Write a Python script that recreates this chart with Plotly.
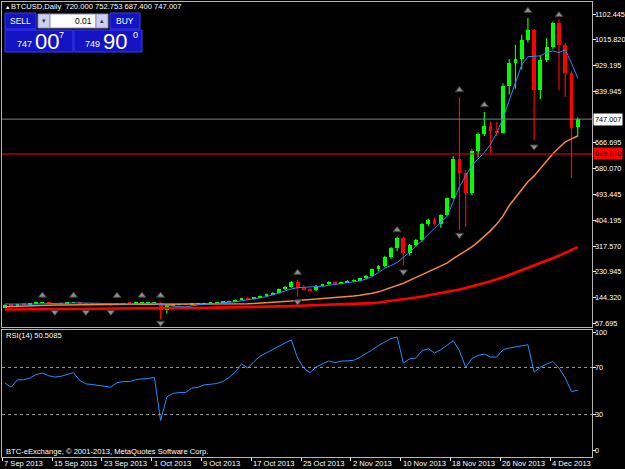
import plotly.graph_objects as go

# ---------------- data ----------------
date_labels = ["7 Sep 2013", "15 Sep 2013", "23 Sep 2013", "1 Oct 2013", "9 Oct 2013",
               "17 Oct 2013", "25 Oct 2013", "2 Nov 2013", "10 Nov 2013", "18 Nov 2013",
               "26 Nov 2013", "4 Dec 2013"]
date_label_bars = [0, 8, 16, 24, 32, 40, 48, 56, 64, 72, 80, 88]

opens = [110, 119, 117, 122, 121, 124, 126, 127, 124, 123,
         125, 126.5, 128, 123, 121, 120.5, 120, 119, 119.5, 123,
         124, 123.5, 125, 126, 126.5, 127, 103, 117, 119, 119.5,
         119, 122, 123, 125, 126, 127, 129, 132, 136, 142,
         138, 145, 148, 155, 160, 172, 181, 197, 177, 172,
         168, 184, 188, 197, 191, 196, 200, 203, 209, 218,
         240, 251, 282, 311, 345, 294, 321, 338, 392, 406,
         392, 423, 480, 612, 565, 497, 639, 698, 724, 707,
         701, 859, 937, 952, 1015, 1048, 845, 947, 991, 1072,
         998, 903, 720.0]
highs = [120, 121, 123, 124, 125, 127, 128, 128, 125, 126,
         127, 129, 128.5, 124, 122.5, 122, 121.5, 120.5, 124, 125,
         125, 126, 128, 127, 128, 128, 120, 120, 121, 121,
         123, 124, 126, 127, 128, 130, 133, 137, 143, 145,
         146, 150, 157, 162, 174, 183, 199, 205, 186, 176,
         186, 190, 199, 199, 198, 202, 205, 211, 220, 242,
         254, 285, 315, 350, 350, 326, 342, 395, 410, 414,
         425, 482, 622, 822, 575, 645, 702, 771, 738, 737,
         868, 950, 998, 1032, 1089, 1052, 962, 1021, 1076, 1085,
         1005, 910, 752.753]
lows = [108, 116, 116, 120, 120, 123, 124, 123, 121, 122,
        124, 125, 122, 120, 119.5, 119, 118.5, 117, 119, 122,
        122.5, 123, 124, 124.5, 125, 70, 90, 114, 117, 118,
        118.5, 121, 122, 124, 125, 126, 128, 131, 135, 136,
        137, 142, 146, 153, 158, 169, 178, 147, 168, 165,
        166, 181, 186, 188, 189, 194, 197, 200, 206, 215,
        232, 247, 275, 300, 254, 285, 317, 332, 385, 388,
        380, 420, 476, 372, 382, 490, 618, 690, 633, 690,
        698, 830, 850, 915, 1005, 676, 815, 940, 985, 845,
        822, 548, 687.4]
closes = [119, 117, 122, 121, 124, 126, 127, 124, 123, 125,
          126.5, 128, 123, 121, 120.5, 120, 119, 119.5, 123, 124,
          123.5, 125, 126, 126.5, 127, 103, 117, 119, 119.5, 119,
          122, 123, 125, 126, 127, 129, 132, 136, 142, 138,
          145, 148, 155, 160, 172, 181, 197, 177, 172, 168,
          184, 188, 197, 191, 196, 200, 203, 209, 218, 240,
          251, 282, 311, 345, 294, 321, 338, 392, 406, 392,
          423, 480, 612, 565, 497, 639, 698, 724, 707, 701,
          859, 937, 952, 1015, 1048, 845, 947, 991, 1072, 998,
          903, 717, 747.007]

ma_fast = [122, 121.5, 121, 121, 121.5, 122, 123, 124, 124.5, 125,
           125, 125.5, 125.5, 125, 124, 123, 122, 121, 121, 121.5,
           122, 122.5, 123.5, 124.5, 125, 120, 117, 114.5, 113, 112,
           116, 119, 120.5, 122, 123.5, 125, 127, 129.5, 133, 135.5,
           138.5, 142.5, 147, 152, 159, 166, 173, 177, 178, 179,
           180, 182, 185, 188, 190.5, 193, 196, 200, 206, 215,
           228, 243, 252, 262, 280, 297, 318, 336, 358, 378,
           396, 418, 468, 518, 555, 590, 612, 634, 662, 700,
           750, 810, 875, 930, 958, 960, 961, 972, 978, 972,
           982, 936, 886]
ma_mid = [113, 114, 115, 116, 116.5, 117, 117.5, 118, 118.5, 118.5,
          118.5, 118.5, 118.5, 119, 119, 119.5, 119.5, 120, 120, 120.5,
          121, 121, 121.5, 121.5, 122, 121.5, 121, 121, 120.5, 120.5,
          120.5, 120.5, 121, 121, 121, 121.5, 121.5, 122, 122.5, 123,
          124, 125, 126, 127, 128.5, 130, 132, 134, 135.5, 137,
          138.5, 140, 141.5, 143, 145, 147, 149, 151.5, 154, 158,
          163, 170, 177, 185, 192, 202, 212, 222, 232, 242,
          250, 260, 275, 288, 299, 315, 332, 350, 370, 392,
          420, 455, 482, 510, 535, 555, 580, 605, 630, 650,
          670, 680, 690]
ma_slow = [103.5, 103.6, 103.7, 103.8, 104.0, 104.1, 104.2, 104.4, 104.5, 104.7,
           104.9, 105.1, 105.3, 105.5, 105.8, 106.0, 106.3, 106.6, 106.9, 107.2,
           107.4, 107.6, 107.8, 108.0, 108.2, 108.2, 108.3, 108.4, 108.5, 108.6,
           108.8, 109.0, 109.2, 109.4, 109.6, 109.8, 110.0, 110.3, 110.7, 111.0,
           111.5, 112.0, 112.6, 113.2, 113.8, 114.4, 115.0, 115.7, 116.3, 116.9,
           117.5, 118.1, 118.7, 119.4, 120.1, 120.9, 121.7, 122.6, 123.7, 125.0,
           127.0, 129.5, 132.5, 135.5, 138.0, 141.0, 144.0, 147.5, 151.0, 154.5,
           158.0, 162.0, 166.5, 171.0, 176.0, 181.0, 187.0, 193.0, 199.0, 205.0,
           212.0, 220.0, 228.0, 236.0, 244.0, 252.0, 260.0, 268.0, 276.0, 285.0,
           295.0, 305.0, 314.0]

rsi = [56.7, 53.3, 59.5, 59.5, 61.0, 64.0, 65.2, 63.0, 61.8, 62.5,
       64.0, 65.5, 59.0, 56.0, 55.5, 54.8, 53.5, 53.3, 57.0, 58.0,
       58.0, 59.5, 60.3, 60.5, 61.5, 25.0, 45.0, 48.0, 48.7, 48.7,
       52.5, 53.0, 55.2, 55.7, 56.3, 58.0, 61.5, 66.0, 73.0, 69.5,
       75.0, 79.5, 82.5, 85.3, 88.0, 90.8, 93.3, 77.9, 69.4, 65.5,
       70.5, 73.0, 75.5, 74.0, 75.3, 75.6, 76.0, 78.5, 81.5, 85.0,
       88.5, 91.5, 94.5, 95.8, 73.6, 77.3, 77.9, 84.1, 85.8, 82.2,
       85.0, 88.7, 92.6, 84.1, 70.0, 77.5, 80.2, 81.3, 78.8, 78.8,
       85.0, 86.4, 87.2, 88.5, 89.2, 66.0, 70.0, 72.8, 75.0, 69.4,
       61.0, 49.6, 50.5085]

frac_up_bar = [6, 11, 18, 22, 25, 47, 63, 73, 77, 84, 89]
frac_up_price = [150.7, 150.7, 150.0, 150.7, 150.7, 227.8, 372, 845.5, 794.8, 1113.6, 1099]
frac_dn_bar = [8, 13, 17, 25, 47, 64, 73, 85]
frac_dn_price = [94.9, 94.9, 94.9, 57.7, 129.7, 231, 355.2, 653.8]

price_ticks = [57.695, 144.320, 230.945, 317.570, 404.195, 493.445, 580.070,
               666.695, 839.945, 929.195, 1015.820, 1102.445]
price_tick_text = ["57.695", "144.320", "230.945", "317.570", "404.195", "493.445",
                   "580.070", "666.695", "839.945", "929.195", "1015.820", "1102.445"]
rsi_ticks = [0, 30, 70, 100]
rsi_levels = [30, 70]
bid_price = 747.007
ask_price = 749.900
level_price = 629.210
header = "BTCUSD,Daily  720.000 752.753 687.400 747.007"
rsi_label = "RSI(14) 50.5085"
copyright_text = "BTC-eExchange, © 2001-2013, MetaQuotes Software Corp."

# ---------------- geometry ----------------
W, H = 625, 469
L, R, T, B = 2, 33, 2, 12
plot_h = H - T - B
plot_w = W - L - R
main_top_px, main_bot_px = 2, 327
rsi_top_px, rsi_bot_px = 330, H - B


def PX(x):
    return (x - L) / plot_w


def PY(y):
    return (H - B - y) / plot_h


FONT = "Liberation Sans, Arial, sans-serif"
FS = 7.3
FRAME = "#b4b4b4"
BULL, BEAR = "#00ff00", "#ff0000"

idx = list(range(len(closes)))
is_bull = [c >= o for o, c in zip(opens, closes)]
col = [BULL if b else BEAR for b in is_bull]
body_base = [min(o, c) for o, c in zip(opens, closes)]
body_len = [max(abs(c - o), 2.0) for o, c in zip(opens, closes)]

fig = go.Figure()
# wicks as crisp line segments, one trace per colour
for want, colr in ((True, BULL), (False, BEAR)):
    wx, wy = [], []
    for i, b, h, l in zip(idx, is_bull, highs, lows):
        if b == want:
            wx += [i, i, None]
            wy += [l, h, None]
    fig.add_trace(go.Scatter(x=wx, y=wy, mode="lines", line=dict(color=colr, width=1.2),
                             xaxis="x", yaxis="y", hoverinfo="skip"))
fig.add_trace(go.Bar(x=idx, y=body_len, base=body_base, width=0.62,
                     marker=dict(color=col, line=dict(width=0)), xaxis="x", yaxis="y"))
fig.add_trace(go.Scatter(x=idx, y=ma_slow, mode="lines", line=dict(color="#ff0000", width=2.6),
                         xaxis="x", yaxis="y"))
fig.add_trace(go.Scatter(x=idx, y=ma_mid, mode="lines", line=dict(color="#f5883a", width=1.5),
                         xaxis="x", yaxis="y"))
fig.add_trace(go.Scatter(x=idx, y=ma_fast, mode="lines", line=dict(color="#1e90ff", width=1),
                         xaxis="x", yaxis="y"))
fig.add_trace(go.Scatter(x=frac_up_bar, y=frac_up_price, mode="markers",
                         marker=dict(symbol="triangle-up", size=7, color="#8e8e8e",
                                     line=dict(color="#3a3a3a", width=1)),
                         xaxis="x", yaxis="y"))
fig.add_trace(go.Scatter(x=frac_dn_bar, y=frac_dn_price, mode="markers",
                         marker=dict(symbol="triangle-down", size=7, color="#8e8e8e",
                                     line=dict(color="#3a3a3a", width=1)),
                         xaxis="x", yaxis="y"))
fig.add_trace(go.Scatter(x=idx, y=rsi, mode="lines", line=dict(color="#1e90ff", width=1),
                         xaxis="x2", yaxis="y2"))

# axis ranges from pixel geometry
p_top_val, p_top_px = 1102.445, 14.0
p_bot_val, p_bot_px = 57.695, 323.0
ppp = (p_top_val - p_bot_val) / (p_bot_px - p_top_px)
y_range = [p_bot_val - (main_bot_px - p_bot_px) * ppp, p_top_val + (p_top_px - main_top_px) * ppp]
r_top_px, r_bot_px = 332.0, 450.0
rpp = 100 / (r_bot_px - r_top_px)
y2_range = [0 - (rsi_bot_px - r_bot_px) * rpp, 100 + (r_top_px - rsi_top_px) * rpp]
x_first_px, x_step = 5.0, 6.225
x_range = [-(x_first_px - L) / x_step, (W - R - x_first_px) / x_step]
tick_off = 0.45

common_x = dict(range=x_range, showgrid=False, zeroline=False, showline=True, mirror=True,
                linecolor=FRAME, linewidth=1, automargin=False, fixedrange=True)
common_y = dict(side="right", showticklabels=False, ticks="outside", ticklen=3,
                tickcolor="#ffffff", showgrid=False, zeroline=False, showline=True,
                mirror=True, linecolor=FRAME, automargin=False)
fig.update_layout(
    width=W, height=H,
    margin=dict(l=L, r=R, t=T, b=B),
    paper_bgcolor="#000000", plot_bgcolor="#000000",
    showlegend=False, barmode="overlay", bargap=0,
    xaxis=dict(domain=[0, 1], anchor="y", showticklabels=False, ticks="", **common_x),
    xaxis2=dict(domain=[0, 1], anchor="y2", matches="x", showticklabels=False,
                tickvals=[b - tick_off for b in date_label_bars],
                ticks="outside", ticklen=3, tickcolor="#ffffff", **common_x),
    yaxis=dict(domain=[PY(main_bot_px), PY(main_top_px)], anchor="x", range=y_range,
               tickvals=price_ticks, **common_y),
    yaxis2=dict(domain=[PY(rsi_bot_px), PY(rsi_top_px)], anchor="x2", range=y2_range,
                tickvals=rsi_ticks, **common_y),
)

shapes = []
shapes.append(dict(type="line", xref="paper", yref="y", x0=0, x1=1, y0=bid_price, y1=bid_price,
                   line=dict(color="#808080", width=1)))
shapes.append(dict(type="line", xref="paper", yref="y", x0=0, x1=1, y0=level_price, y1=level_price,
                   line=dict(color="#ff0000", width=1)))
for lv in rsi_levels:
    shapes.append(dict(type="line", xref="paper", yref="y2", x0=0, x1=1, y0=lv, y1=lv,
                       line=dict(color="#a0a0a0", width=1, dash="dot")))


def rect(x0, y0, x1, y1, fill, line="#3c3cf0", lw=1):
    shapes.append(dict(type="rect", xref="paper", yref="paper", x0=PX(x0), x1=PX(x1),
                       y0=PY(y1), y1=PY(y0), fillcolor=fill, line=dict(color=line, width=lw),
                       layer="above"))


BLUE = "#1414c4"
rect(5, 13, 36, 29, BLUE)
rect(110, 13, 140, 29, BLUE)
rect(38, 14, 50, 28, "#ccd0ec", line="#9090c0")
rect(50, 14, 96, 28, "#ffffff", line="#9090c0")
rect(96, 14, 108, 28, "#ccd0ec", line="#9090c0")
rect(5, 30, 73, 52, BLUE)
rect(74, 30, 142, 52, BLUE)
fig.update_layout(shapes=shapes)

ann = []


def text(x, y, s, size=FS, color="#ffffff", xanchor="left", yanchor="middle"):
    ann.append(dict(x=PX(x), y=PY(y), xref="paper", yref="paper", text=s, showarrow=False,
                    xanchor=xanchor, yanchor=yanchor, borderpad=0,
                    font=dict(family=FONT, size=size, color=color)))


text(4, 7, "▲", size=5.5)
text(10, 7, header, size=7.6)
text(20.5, 21, "SELL", size=8.5, xanchor="center")
text(125, 21, "BUY", size=8.5, xanchor="center")
text(44, 21, "▾", size=7, color="#303060", xanchor="center")
text(102, 21, "▴", size=7, color="#303060", xanchor="center")
text(93, 21, "0.01", size=8.5, color="#000000", xanchor="right")
bid_s = f"{bid_price:.3f}"
ask_s = f"{ask_price:.3f}"
text(33, 44, bid_s[:3], size=9, xanchor="right")
text(34, 41, bid_s[4:6], size=22)
text(58, 35, bid_s[6], size=9)
text(101, 44, ask_s[:3], size=9, xanchor="right")
text(102, 41, ask_s[4:6], size=22)
text(132, 35, ask_s[6], size=9)
text(5, 335, rsi_label, size=7.6)
text(5, 451, copyright_text, size=7.6)

# date labels (left-aligned at their tick, like MetaTrader)
for b, s in zip(date_label_bars, date_labels):
    ann.append(dict(x=b - tick_off, y=PY(463), xref="x2", yref="paper", text=s, showarrow=False,
                    xanchor="left", yanchor="middle", xshift=1, borderpad=0,
                    font=dict(family=FONT, size=7.6, color="#ffffff")))

# price scale labels
for v, s in zip(price_ticks, price_tick_text):
    ann.append(dict(x=1, y=v, xref="paper", yref="y", text=s, showarrow=False,
                    xanchor="left", yanchor="middle", xshift=2, borderpad=0,
                    font=dict(family=FONT, size=FS, color="#ffffff")))
for v in rsi_ticks:
    ann.append(dict(x=1, y=v, xref="paper", yref="y2", text=str(v), showarrow=False,
                    xanchor="left", yanchor="middle", xshift=2, borderpad=0,
                    font=dict(family=FONT, size=FS, color="#ffffff")))

ann.append(dict(x=1, y=bid_price, xref="paper", yref="y", text=bid_s,
                showarrow=False, xanchor="left", yanchor="middle", xshift=1,
                bgcolor="#ffffff", borderpad=1,
                font=dict(family=FONT, size=FS, color="#000000")))
ann.append(dict(x=1, y=level_price, xref="paper", yref="y", text=f"{level_price:.3f}",
                showarrow=False, xanchor="left", yanchor="middle", xshift=1,
                bgcolor="#ff0000", borderpad=1,
                font=dict(family=FONT, size=FS, color="#300000")))
fig.update_layout(annotations=ann)

fig.write_html("out.html")
